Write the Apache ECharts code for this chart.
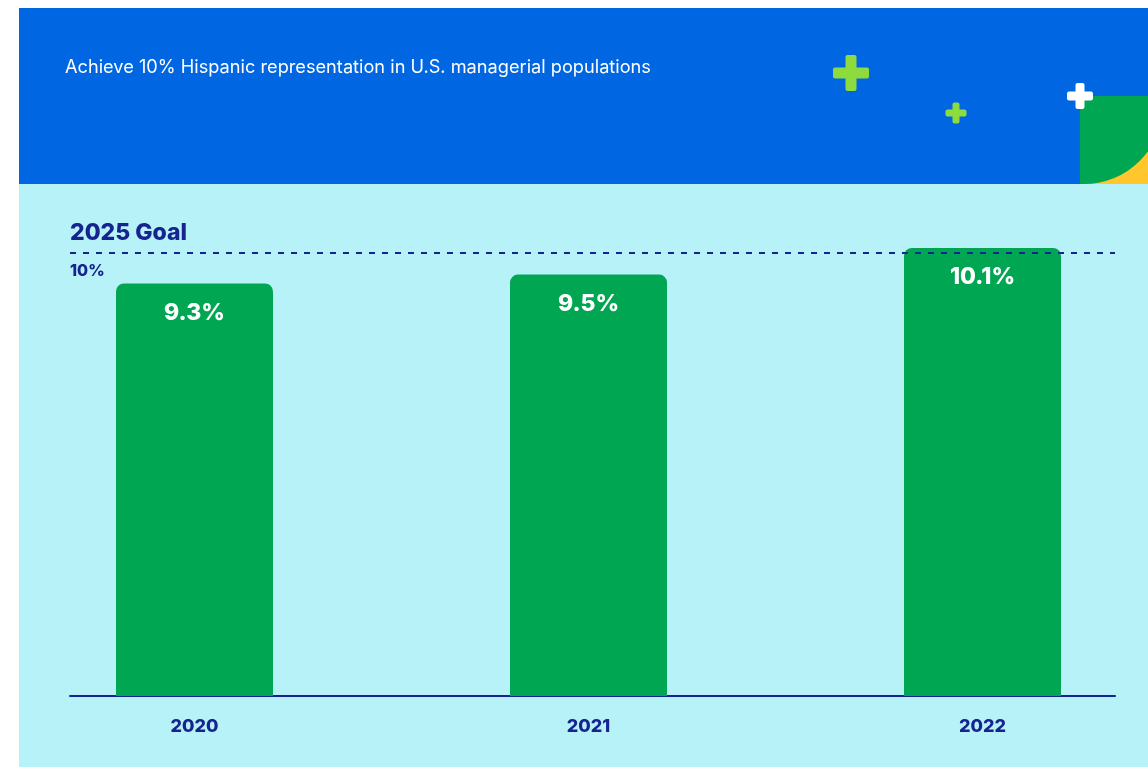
<!DOCTYPE html>
<html><head><meta charset="utf-8">
<script src="https://cdn.jsdelivr.net/npm/echarts@6/dist/echarts.min.js"></script>
<style>html,body{margin:0;padding:0;background:#fff}#c{width:1148px;height:767px}</style>
</head><body><div id="c"></div>
<script>
const categories = ['2020', '2021', '2022'];
const shareValues = [9.3, 9.5, 10.1];
const goalValue = 10;
const goalTitle = '2025 Goal';
const goalLabel = '10%';
const headline = 'Achieve 10% Hispanic representation in U.S. managerial populations';
const yMax = 11;

const NAVY = '#15248F';
const GREEN = '#00A651';
const BLUE = '#0066E2';
const CYAN = '#B8F2F9';
const LIME = '#8EDB3E';
const YELLOW = '#FFC72C';
const FONT = 'Inter, "Noto Sans", sans-serif';

const chart = echarts.init(document.getElementById('c'));
function plus(cx, cy, size, thick, color) {
  return { type: 'group', z: 5, children: [
    { type: 'rect', z: 5, shape: { x: cx - size / 2, y: cy - thick / 2, width: size, height: thick, r: 2 }, style: { fill: color } },
    { type: 'rect', z: 5, shape: { x: cx - thick / 2, y: cy - size / 2, width: thick, height: size, r: 2 }, style: { fill: color } }
  ]};
}
const option = {
  backgroundColor: '#fff',
  animation: false,
  textStyle: { fontFamily: FONT },
  title: { text: headline, left: 60, top: 54, textStyle: { color: '#fff', fontSize: 18.2, fontWeight: 'normal', fontFamily: FONT } },
  graphic: [
    { type: 'rect', z: -10, shape: { x: 19, y: 8, width: 1129, height: 176 }, style: { fill: BLUE } },
    { type: 'rect', z: -10, shape: { x: 19, y: 184, width: 1129, height: 583 }, style: { fill: CYAN } },
    { type: 'rect', z: 1, shape: { x: 1080, y: 130, width: 68, height: 54 }, style: { fill: YELLOW } },
    { type: 'rect', z: 2, shape: { x: 1080, y: 96, width: 83, height: 88, r: [0, 0, 79, 0] }, style: { fill: GREEN } },
    plus(851, 73, 36, 11, LIME),
    plus(956, 113, 21, 7, LIME),
    plus(1080, 96, 26, 9, '#ffffff')
  ],
  grid: [
    { left: -2.5, width: 1182, top: 208, bottom: 71, outerBoundsMode: 'none', containLabel: false },
    { left: 70, right: 33, top: 208, bottom: 71, outerBoundsMode: 'none', containLabel: false }
  ],
  xAxis: [
    { type: 'category', data: categories, gridIndex: 0, axisLine: { show: false }, axisTick: { show: false },
      axisLabel: { color: NAVY, fontWeight: 800, fontSize: 18, margin: 22, fontFamily: FONT } },
    { type: 'value', gridIndex: 1, min: 0, max: 1, axisLine: { show: true, onZero: false, lineStyle: { color: NAVY, width: 2 } },
      axisTick: { show: false }, axisLabel: { show: false }, splitLine: { show: false } }
  ],
  yAxis: [
    { gridIndex: 0, type: 'value', min: 0, max: yMax, show: false },
    { gridIndex: 1, type: 'value', min: 0, max: yMax, show: false }
  ],
  series: [
    { type: 'bar', data: shareValues, barWidth: 157, z: 2,
      itemStyle: { color: GREEN, borderRadius: [8, 8, 0, 0] },
      label: { show: true, position: 'insideTop', distance: 18, formatter: p => p.value + '%', color: '#fff', fontWeight: 800, fontSize: 23, fontFamily: FONT } },
    { type: 'line', xAxisIndex: 1, yAxisIndex: 1, z: 5, data: [[0, goalValue], [1, goalValue]], showSymbol: false, lineStyle: { opacity: 0 },
      markLine: { symbol: 'none', silent: true, z: 5,
        data: [
          { yAxis: goalValue, lineStyle: { color: NAVY, width: 2, type: [6, 7] },
            label: { formatter: goalTitle, position: 'insideStartTop', distance: [0, 8], color: NAVY, fontWeight: 800, fontSize: 23, fontFamily: FONT } },
          { yAxis: goalValue, lineStyle: { color: 'rgba(0,0,0,0)', width: 0 },
            label: { formatter: goalLabel, position: 'insideStartBottom', distance: [0, 11], color: NAVY, fontWeight: 800, fontSize: 16, fontFamily: FONT } }
        ] } }
  ]
};
chart.setOption(option);
</script></body></html>
